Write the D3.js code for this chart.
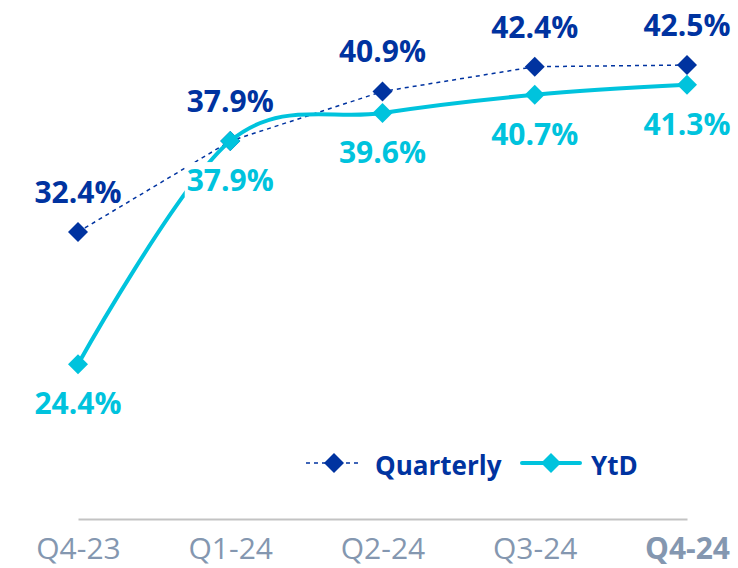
<!DOCTYPE html>
<html>
<head>
<meta charset="utf-8">
<script src="https://cdn.jsdelivr.net/npm/d3@7/dist/d3.min.js"></script>
<style>
  html, body { margin: 0; padding: 0; background: #ffffff; }
  svg { display: block; }
</style>
</head>
<body>
<div id="chart"></div>
<script>
const categories = ["Q4-23", "Q1-24", "Q2-24", "Q3-24", "Q4-24"];
const quarterly = [32.4, 37.9, 40.9, 42.4, 42.5];
const ytd = [24.4, 37.9, 39.6, 40.7, 41.3];
const seriesNames = ["Quarterly", "YtD"];

const W = 738, H = 568;
const darkBlue = "#0033A0";
const cyan = "#00C3DD";
const tickGray = "#8497B0";
const font = "'Open Sans', 'Noto Sans', sans-serif";

const svg = d3.select("#chart").append("svg")
  .attr("width", W).attr("height", H);

const x = d3.scalePoint().domain(categories).range([78, 687]);
const y = d3.scaleLinear().domain([20, 45]).range([437, 23.7]);

// X axis
const axisY = 519;
const axis = svg.append("g")
  .attr("transform", `translate(0,${axisY})`)
  .call(d3.axisBottom(x).tickSize(0).tickSizeOuter(0));
axis.select(".domain").attr("stroke", "#C3C3C3").attr("stroke-width", 2);
axis.selectAll("text")
  .attr("y", 40).attr("dy", 0)
  .attr("font-family", font)
  .attr("font-size", 30)
  .attr("fill", tickGray)
  .attr("font-weight", (d, i) => i === categories.length - 1 ? "bold" : "normal");

const qData = categories.map((c, i) => ({ c, v: quarterly[i] }));
const yData = categories.map((c, i) => ({ c, v: ytd[i] }));

const diamond = d3.symbol().type(d3.symbolSquare).size(200);

// Quarterly dashed line
const qLine = d3.line().x(d => x(d.c)).y(d => y(d.v));
svg.append("path")
  .datum(qData)
  .attr("d", qLine)
  .attr("fill", "none")
  .attr("stroke", darkBlue)
  .attr("stroke-width", 1.5)
  .attr("stroke-dasharray", "4,4");

svg.selectAll(".qpt").data(qData).enter().append("path")
  .attr("class", "qpt")
  .attr("d", diamond)
  .attr("transform", d => `translate(${x(d.c)},${y(d.v)}) rotate(45)`)
  .attr("fill", darkBlue);

// YtD smooth line
const yLine = d3.line().x(d => x(d.c)).y(d => y(d.v)).curve(d3.curveCatmullRom.alpha(0));
svg.append("path")
  .datum(yData)
  .attr("d", yLine)
  .attr("fill", "none")
  .attr("stroke", cyan)
  .attr("stroke-width", 4)
  .attr("stroke-linecap", "round");

svg.selectAll(".ypt").data(yData).enter().append("path")
  .attr("class", "ypt")
  .attr("d", diamond)
  .attr("transform", d => `translate(${x(d.c)},${y(d.v)}) rotate(45)`)
  .attr("fill", cyan);

// Labels
svg.selectAll(".qlab").data(qData).enter().append("text")
  .attr("x", d => x(d.c))
  .attr("y", d => y(d.v) - 29)
  .attr("text-anchor", "middle")
  .attr("font-family", font)
  .attr("font-weight", "bold")
  .attr("font-size", 30)
  .attr("fill", darkBlue)
  .text(d => d.v.toFixed(1) + "%");

const ylabG = svg.selectAll(".ylab").data(yData).enter().append("g").attr("class", "ylab");
const bgRects = ylabG.append("rect").attr("fill", "#ffffff");
const ytexts = ylabG.append("text")
  .attr("x", d => x(d.c))
  .attr("y", d => y(d.v) + 50)
  .attr("text-anchor", "middle")
  .attr("font-family", font)
  .attr("font-weight", "bold")
  .attr("font-size", 30)
  .attr("fill", cyan)
  .text(d => d.v.toFixed(1) + "%");
ytexts.each(function(d, i) {
  const b = this.getBBox();
  d3.select(this.parentNode).select("rect")
    .attr("x", b.x - 2).attr("y", b.y + 3)
    .attr("width", b.width + 4).attr("height", b.height - 6);
});

// Legend
const legY = 463;
const leg = svg.append("g");
// Quarterly
leg.append("line").attr("x1", 306).attr("x2", 362).attr("y1", legY).attr("y2", legY)
  .attr("stroke", darkBlue).attr("stroke-width", 1.5).attr("stroke-dasharray", "4,4");
leg.append("path").attr("d", diamond)
  .attr("transform", `translate(334,${legY}) rotate(45)`).attr("fill", darkBlue);
leg.append("text").attr("x", 375).attr("y", legY + 12)
  .attr("font-family", font).attr("font-weight", "bold").attr("font-size", 26)
  .attr("fill", darkBlue).text(seriesNames[0]);
// YtD
leg.append("line").attr("x1", 522).attr("x2", 580).attr("y1", legY).attr("y2", legY)
  .attr("stroke", cyan).attr("stroke-width", 4).attr("stroke-linecap", "round");
leg.append("path").attr("d", diamond)
  .attr("transform", `translate(551,${legY}) rotate(45)`).attr("fill", cyan);
leg.append("text").attr("x", 591).attr("y", legY + 12)
  .attr("font-family", font).attr("font-weight", "bold").attr("font-size", 26)
  .attr("fill", darkBlue).text(seriesNames[1]);
</script>
</body>
</html>
